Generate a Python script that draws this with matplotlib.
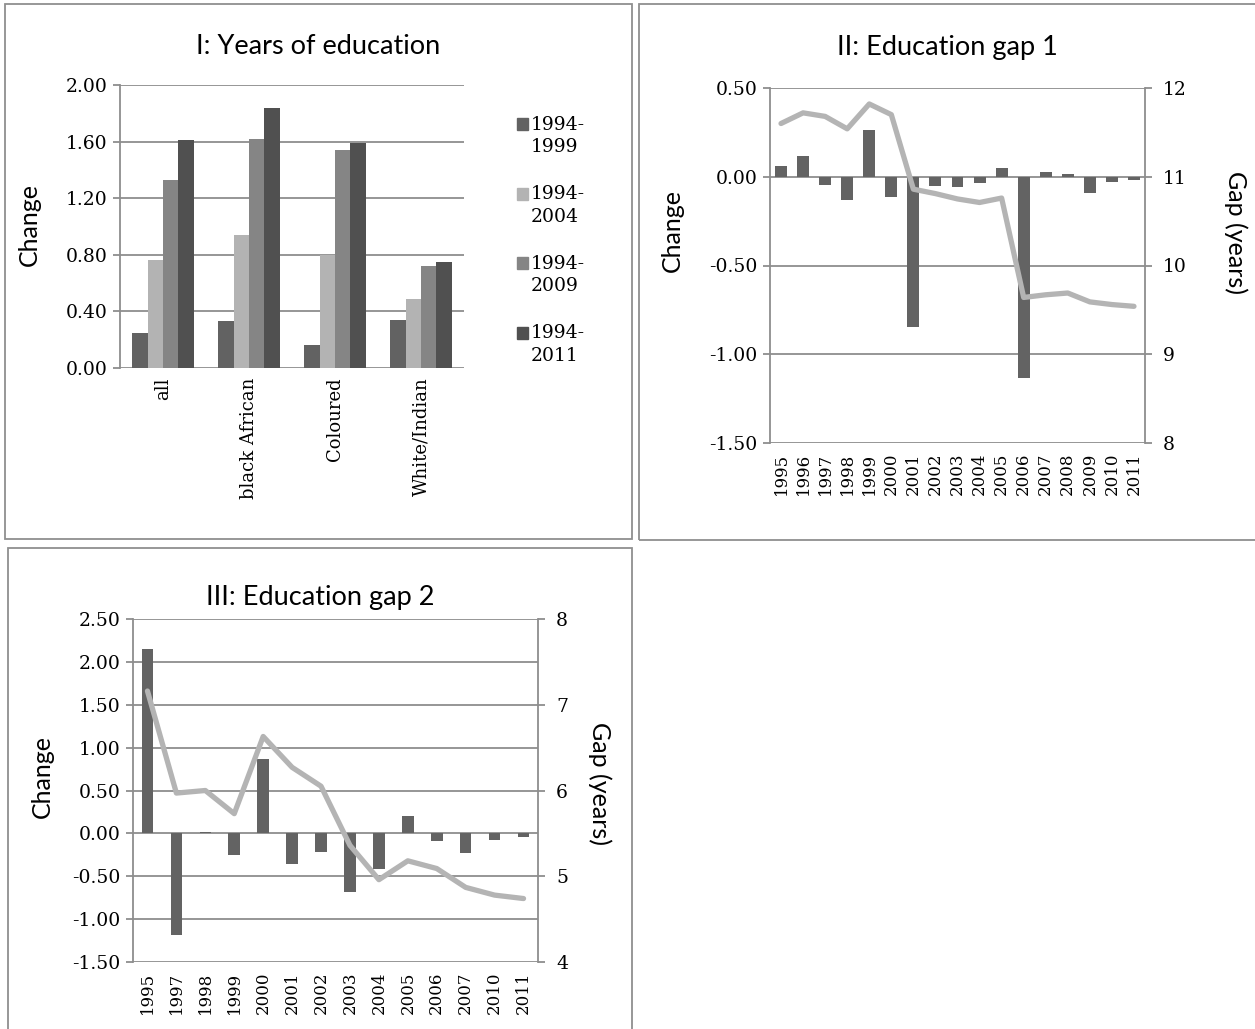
import matplotlib.pyplot as plt
from matplotlib.patches import Rectangle
import numpy as np

# Panel I: change in years of education by population group
groups = ['all', 'black African', 'Coloured', 'White/Indian']
periods = ['1994-\n1999', '1994-\n2004', '1994-\n2009', '1994-\n2011']
change_1999 = [0.25, 0.33, 0.16, 0.34]
change_2004 = [0.76, 0.94, 0.80, 0.49]
change_2009 = [1.33, 1.62, 1.54, 0.72]
change_2011 = [1.61, 1.84, 1.59, 0.75]

# Panel II: education gap 1
gap1_years = ['1995', '1996', '1997', '1998', '1999', '2000', '2001', '2002', '2003',
              '2004', '2005', '2006', '2007', '2008', '2009', '2010', '2011']
gap1_change = [0.06, 0.115, -0.045, -0.13, 0.265, -0.113, -0.845, -0.05, -0.06,
               -0.037, 0.052, -1.136, 0.028, 0.016, -0.089, -0.031, -0.019]
gap1_level = [11.60, 11.72, 11.68, 11.54, 11.82, 11.70, 10.86, 10.81, 10.75,
              10.71, 10.76, 9.64, 9.67, 9.69, 9.59, 9.56, 9.54]

# Panel III: education gap 2
gap2_years = ['1995', '1997', '1998', '1999', '2000', '2001', '2002', '2003',
              '2004', '2005', '2006', '2007', '2010', '2011']
gap2_change = [2.15, -1.18, 0.02, -0.257, 0.87, -0.362, -0.214, -0.68,
               -0.42, 0.203, -0.09, -0.226, -0.08, -0.04]
gap2_level = [7.16, 5.97, 6.00, 5.73, 6.63, 6.27, 6.05, 5.36,
              4.96, 5.18, 5.09, 4.87, 4.78, 4.74]

series_colors = ['#626262', '#b3b3b3', '#858585', '#505050']
BAR = '#636363'
LINE = '#b4b4b4'
GRID = '#8e8e8e'
SANS = 'Lato'
TICK = 13.5
plt.rcParams['font.family'] = 'DejaVu Serif'

W, H = 1255, 1029
fig = plt.figure(figsize=(W / 100, H / 100), dpi=100)


def box(l, t, r, b):
    return [l / W, 1 - b / H, (r - l) / W, (b - t) / H]


def ftext(x, y, s, **kw):
    fig.text(x / W, 1 - y / H, s, **kw)


def style(ax, ticks):
    for s in ax.spines.values():
        s.set_visible(False)
    ax.spines['left'].set_visible(True)
    ax.spines['left'].set_color(GRID)
    ax.spines['left'].set_linewidth(1.3)
    ax.yaxis.grid(True, color=GRID, lw=1.3)
    ax.set_axisbelow(True)
    ax.set_yticks(ticks)
    ax.set_yticklabels([f'{t:.2f}' for t in ticks])
    ax.set_ylim(ticks[0], ticks[-1])
    ax.tick_params(axis='y', length=5, width=1.3, color=GRID, labelsize=TICK, pad=4)
    ax.tick_params(axis='x', length=0, pad=7)


def twin_line(ax, x, level, lo, hi):
    tw = ax.twinx()
    for s in tw.spines.values():
        s.set_visible(False)
    tw.spines['right'].set_visible(True)
    tw.spines['right'].set_color(GRID)
    tw.spines['right'].set_linewidth(1.3)
    tw.plot(x, level, color=LINE, lw=3.8, solid_capstyle='round', solid_joinstyle='round')
    tw.set_ylim(lo, hi)
    tw.set_yticks(range(lo, hi + 1))
    tw.tick_params(axis='y', length=5, width=1.3, color=GRID, labelsize=TICK, pad=8)
    return tw


# panel borders
for l, t, r, b in [(5, 4, 632, 539), (639, 4, 1258, 540), (8, 548, 632, 1034)]:
    fig.add_artist(Rectangle((l / W, 1 - b / H), (r - l) / W, (b - t) / H,
                             transform=fig.transFigure, fill=False, ec='#8f8f8f', lw=1.3))

# ---- I: Years of education
ax1 = fig.add_axes(box(120, 85, 464, 368))
x = np.arange(len(groups))
w = 0.18
for i, vals in enumerate([change_1999, change_2004, change_2009, change_2011]):
    ax1.bar(x + (i - 1.5) * w, vals, w, color=series_colors[i], zorder=2)
ax1.set_xlim(-0.5, len(groups) - 0.5)
style(ax1, [0.0, 0.4, 0.8, 1.2, 1.6, 2.0])
ax1.set_xticks(x)
ax1.set_xticklabels(groups, rotation=90, fontsize=13, va='top')

for i, lab in enumerate(periods):
    yc = 124 + i * 69.5
    fig.add_artist(Rectangle((517 / W, 1 - (yc + 6) / H), 11 / W, 12 / H,
                             transform=fig.transFigure, color=series_colors[i]))
    ftext(531, yc + 12, lab, fontsize=TICK, va='center', ha='left', linespacing=1.3)

ftext(318, 47, 'I: Years of education', family=SANS, fontsize=19.5, ha='center', va='center')
ftext(29, 224, 'Change', family=SANS, fontsize=18, rotation=90, ha='center', va='center')

# ---- II: Education gap 1
ax2 = fig.add_axes(box(770, 88, 1145, 443))
x2 = np.arange(len(gap1_years))
ax2.bar(x2, gap1_change, 0.54, color=BAR, zorder=2)
ax2.set_xlim(-0.5, len(gap1_years) - 0.5)
style(ax2, [-1.5, -1.0, -0.5, 0.0, 0.5])
ax2.set_xticks(x2)
ax2.set_xticklabels(gap1_years, rotation=90, fontsize=12)
twin_line(ax2, x2, gap1_level, 8, 12)

ftext(947, 47, 'II: Education gap 1', family=SANS, fontsize=19.5, ha='center', va='center')
ftext(672, 230, 'Change', family=SANS, fontsize=18, rotation=90, ha='center', va='center')
ftext(1236, 232, 'Gap (years)', family=SANS, fontsize=18, rotation=270, ha='center', va='center')

# ---- III: Education gap 2
ax3 = fig.add_axes(box(133, 619, 538, 962))
x3 = np.arange(len(gap2_years))
ax3.bar(x3, gap2_change, 0.4, color=BAR, zorder=2)
ax3.set_xlim(-0.5, len(gap2_years) - 0.5)
style(ax3, [-1.5, -1.0, -0.5, 0.0, 0.5, 1.0, 1.5, 2.0, 2.5])
ax3.set_xticks(x3)
ax3.set_xticklabels(gap2_years, rotation=90, fontsize=12)
twin_line(ax3, x3, gap2_level, 4, 8)

ftext(320, 598, 'III: Education gap 2', family=SANS, fontsize=19.5, ha='center', va='center')
ftext(42, 777, 'Change', family=SANS, fontsize=18, rotation=90, ha='center', va='center')
ftext(600, 783, 'Gap (years)', family=SANS, fontsize=18, rotation=270, ha='center', va='center')

fig.savefig('out.png', dpi=100, facecolor='white')
